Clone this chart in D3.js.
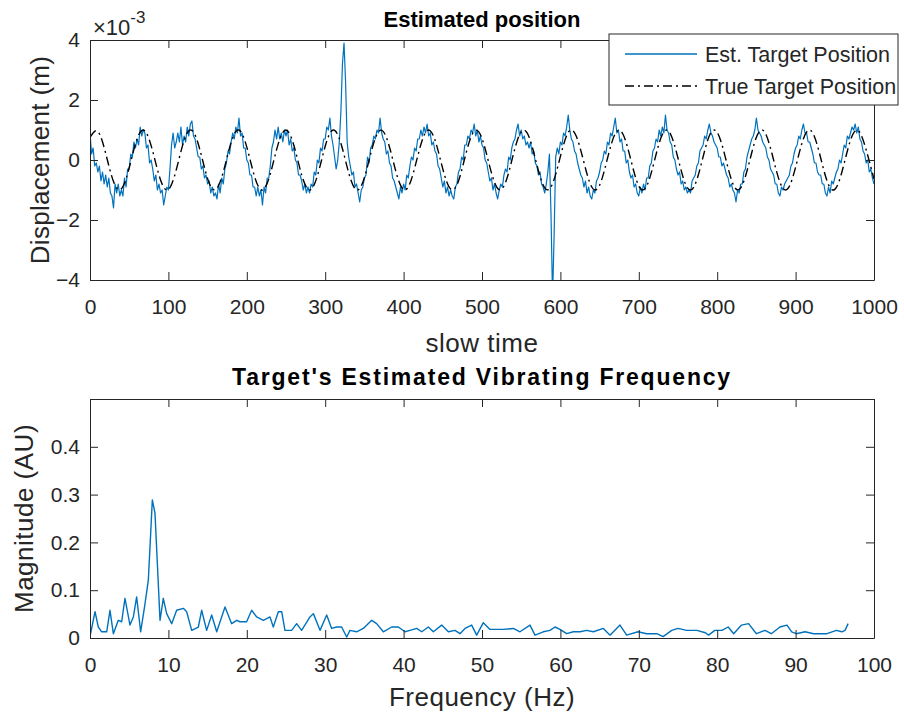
<!DOCTYPE html>
<html>
<head>
<meta charset="utf-8">
<script src="https://cdn.jsdelivr.net/npm/d3@7"></script>
<style>
  body { margin: 0; background: #ffffff; }
  text { font-family: "Liberation Sans", Arial, Helvetica, sans-serif; }
</style>
</head>
<body>
<div id="chart"></div>
<script>
// ---- data ----
// estimated target position, units of 1e-3 m, one value every 2 slow-time samples
var estStep = 2;
var estPosition = [
  0.9, 0.2, 0.4, -0.2, -0.1,   -0.4, -0.2, -0.7, -0.4, -0.8,
  -0.5, -0.9, -0.6, -1.1, -1.2,   -1.6, -0.8, -1.1, -0.8, -1.2,
  -1.0, -1.2, -0.6, -0.9, -0.3,   -0.3, 0.2, 0.1, 0.6, 0.4,
  0.7, 0.5, 1.1, 0.8, 1.0,   0.9, 0.4, 0.5, -0.1, 0.0,
  -0.3, -0.7, -0.5, -1.0, -0.8,   -1.1, -1.0, -1.5, -1.2, -0.9,
  -1.0, -0.3, 0.5, 0.9, 0.4,   0.6, 0.9, 0.6, 1.1, 0.5,
  0.8, 0.6, 1.1, 0.8, 1.2,   1.3, 0.8, 0.7, 0.4, 0.1,
  0.1, -0.3, -0.2, -0.6, -0.5,   -0.8, -0.7, -1.1, -0.9, -1.2,
  -1.1, -1.3, -0.8, -1.1, -0.6,   -0.8, -0.3, -0.1, 0.3, 0.2,
  0.6, 0.9, 0.7, 1.1, 0.9,   1.4, 0.8, 0.9, 0.4, 0.4,
  0.0, -0.1, -0.5, -0.5, -0.9,   -0.9, -1.2, -0.9, -1.2, -1.0,
  -1.5, -0.9, -1.1, -0.6, -0.6,   -0.2, 0.4, 0.6, 1.0, 0.7,
  1.1, 0.7, 0.9, 0.6, 1.0,   0.8, 1.0, 0.5, 0.7, 0.3,
  0.4, 0.0, -0.1, -0.5, -0.5,   -0.7, -1.0, -0.8, -1.1, -0.9,
  -1.1, -0.8, -0.9, -0.4, -0.5,   0.0, -0.1, 0.4, 0.3, 0.7,
  0.7, 1.1, 1.0, 1.4, 0.8,   0.5, 0.1, -0.3, 0.0, 0.6,
  1.6, 3.2, 3.9, 2.6, 0.6,   0.1, -0.2, -0.5, -0.4, -0.9,
  -0.8, -1.1, -1.4, -1.0, -0.9,   -0.6, -0.5, 0.1, -0.1, 0.4,
  0.5, 0.8, 0.7, 1.0, 0.9,   1.4, 0.9, 0.7, 0.6, 0.2,
  0.3, -0.1, -0.2, -0.6, -0.7,   -0.9, -1.1, -1.3, -0.9, -1.1,
  -0.8, -1.0, -0.5, -0.6, -0.2,   0.1, 0.0, 0.4, 0.3, 0.7,
  0.7, 1.0, 0.8, 1.1, 0.9,   1.2, 0.8, 0.9, 0.5, 0.6,
  0.3, 0.2, -0.2, -0.3, -0.6,   -0.9, -0.7, -1.1, -0.9, -1.2,
  -1.0, -1.2, -1.3, -0.9, -0.8,   -0.4, -0.3, 0.1, 0.0, 0.5,
  0.5, 0.8, 0.7, 1.0, 0.9,   1.2, 0.8, 1.0, 0.6, 0.8,
  0.5, 0.4, 0.0, -0.1, -0.4,   -0.7, -0.6, -1.0, -0.8, -1.1,
  -1.3, -1.0, -0.8, -0.9, -0.5,   -0.3, -0.4, 0.1, 0.0, 0.4,
  0.6, 0.7, 1.0, 1.2, 0.8,   1.0, 0.7, 0.8, 0.5, 0.6,
  0.4, 0.6, 0.2, 0.3, -0.1,   -0.2, -0.5, -0.4, -0.8, -0.9,
  -1.1, -0.8, -0.4, 0.2, -1.8,   -4.6, -2.5, 0.1, 0.4, 0.2,
  0.6, 0.5, 0.9, 0.8, 1.1,   1.5, 1.0, 0.7, 0.6, 0.3,
  0.2, -0.1, -0.3, -0.5, -0.6,   -0.9, -0.7, -1.1, -0.9, -1.2,
  -1.3, -1.0, -1.1, -0.7, -0.6,   -0.4, -0.1, 0.0, 0.3, 0.2,
  0.6, 0.5, 0.9, 0.8, 1.1,   1.4, 0.9, 1.0, 0.6, 0.7,
  0.3, 0.3, -0.1, 0.0, -0.4,   -0.6, -0.5, -0.9, -0.8, -1.1,
  -1.2, -0.9, -1.1, -0.8, -1.0,   -0.6, -0.6, -0.2, -0.1, 0.3,
  0.4, 0.7, 0.6, 1.0, 0.8,   1.1, 0.9, 1.5, 1.0, 0.9,
  0.6, 0.5, 0.1, 0.0, -0.3,   -0.5, -0.4, -0.8, -0.7, -1.0,
  -0.9, -1.1, -1.0, -1.1, -0.7,   -0.6, -0.5, -0.2, -0.1, 0.3,
  0.4, 0.5, 0.8, 0.7, 1.0,   1.2, 0.9, 0.8, 0.6, 0.5,
  0.4, 0.1, 0.1, -0.2, -0.1,   -0.3, -0.5, -0.6, -0.9, -0.8,
  -1.0, -1.1, -1.4, -1.0, -1.1,   -0.8, -0.8, -0.4, -0.3, 0.1,
  0.3, 0.5, 0.7, 0.8, 1.0,   1.4, 1.0, 0.9, 0.8, 0.6,
  0.5, 0.4, 0.1, 0.0, -0.3,   -0.4, -0.5, -0.8, -0.8, -1.1,
  -1.2, -0.9, -1.0, -0.8, -0.7,   -0.6, -0.5, -0.2, -0.1, 0.2,
  0.4, 0.5, 0.8, 0.7, 1.0,   1.2, 0.9, 0.9, 0.6, 0.6,
  0.4, 0.2, -0.1, -0.1, -0.4,   -0.5, -0.5, -0.8, -0.8, -1.1,
  -1.2, -0.9, -1.1, -0.7, -0.8,   -0.6, -0.4, -0.3, 0.0, -0.1,
  0.2, 0.5, 0.4, 0.8, 0.7,   0.9, 1.1, 1.0, 1.2, 0.9,
  1.1, 0.7, 0.6, 0.3, 0.2,   -0.1, 0.0, -0.4, -0.3, -0.6,
  -0.8
];

// true target position, units of 1e-3 m, one value every 10 samples
var trueStep = 10;
var truePosition = [
  0.75, 0.95, 0.22, -0.72, -0.96, -0.26, 0.70, 0.97, 0.29, -0.67,
  -0.98, -0.33, 0.65, 0.99, 0.36, -0.62, -0.99, -0.40, 0.59, 1.00,
  0.43, -0.56, -1.00, -0.46, 0.53, 1.00, 0.49, -0.50, -1.00, -0.53,
  0.46, 1.00, 0.56, -0.43, -1.00, -0.59, 0.40, 0.99, 0.61, -0.37,
  -0.99, -0.64, 0.33, 0.98, 0.67, -0.30, -0.97, -0.70, 0.26, 0.96,
  0.72, -0.23, -0.95, -0.75, 0.19, 0.94, 0.77, -0.16, -0.93, -0.79,
  0.12, 0.92, 0.81, -0.08, -0.90, -0.84, 0.05, 0.88, 0.85, -0.01,
  -0.87, -0.87, -0.02, 0.85, 0.89, 0.06, -0.83, -0.91, -0.10, 0.81,
  0.92, 0.13, -0.79, -0.93, -0.17, 0.76, 0.95, 0.20, -0.74, -0.96,
  -0.24, 0.71, 0.97, 0.27, -0.69, -0.98, -0.31, 0.66, 0.98, 0.34,
  -0.63
];

var freqHz = [
  0, 0.64, 1.06, 1.49, 2.13, 2.55, 2.98, 3.61, 4.04, 4.46,
  5.10, 5.53, 5.95, 6.46, 7.02, 7.44, 7.95, 8.29, 8.93, 9.35,
  9.78, 10.42, 11.05, 11.90, 12.33, 12.97, 13.82, 14.24, 14.88, 15.52,
  16.16, 17.22, 18.07, 18.71, 19.13, 19.98, 20.62, 21.26, 22.11, 22.96,
  23.38, 24.02, 24.45, 24.87, 25.72, 26.36, 26.99, 28.06, 28.49, 29.34,
  30.19, 30.82, 31.46, 32.10, 32.74, 33.16, 34.01, 34.86, 35.93, 36.56,
  37.41, 38.48, 39.33, 40.18, 40.82, 41.67, 42.31, 43.16, 43.79, 44.86,
  45.71, 46.56, 47.19, 47.83, 48.68, 49.32, 50.17, 51.02, 52.72, 54.00,
  54.85, 56.12, 56.76, 57.82, 58.67, 59.31, 59.95, 60.80, 61.65, 62.50,
  63.35, 64.20, 65.48, 66.33, 67.60, 68.45, 69.9, 71.0, 72.3, 73.1,
  74.2, 75.0, 76.1, 77.4, 78.5, 78.9, 79.7, 80.6, 81.4, 82.1,
  83.1, 84.0, 85.0, 86.1, 86.9, 88.0, 88.9, 89.5, 90.1, 91.2,
  92.3, 93.1, 94.0, 95.2, 95.9, 96.3, 96.7
];
var magnitude = [
  0.003, 0.055, 0.023, 0.013, 0.013, 0.058, 0.009, 0.037, 0.034, 0.083,
  0.027, 0.044, 0.086, 0.013, 0.072, 0.121, 0.289, 0.261, 0.037, 0.083,
  0.051, 0.030, 0.058, 0.062, 0.055, 0.016, 0.023, 0.058, 0.016, 0.048,
  0.013, 0.065, 0.030, 0.037, 0.034, 0.034, 0.058, 0.044, 0.037, 0.044,
  0.023, 0.055, 0.055, 0.016, 0.016, 0.030, 0.016, 0.044, 0.051, 0.016,
  0.048, 0.020, 0.023, 0.023, 0.002, 0.016, 0.013, 0.020, 0.037, 0.030,
  0.013, 0.023, 0.023, 0.013, 0.016, 0.020, 0.013, 0.023, 0.013, 0.027,
  0.013, 0.016, 0.009, 0.020, 0.027, 0.006, 0.032, 0.018, 0.018, 0.020,
  0.013, 0.027, 0.006, 0.013, 0.016, 0.023, 0.018, 0.009, 0.013, 0.013,
  0.016, 0.013, 0.020, 0.006, 0.027, 0.006, 0.013, 0.009, 0.009, 0.003,
  0.016, 0.020, 0.016, 0.016, 0.011, 0.006, 0.016, 0.016, 0.023, 0.009,
  0.027, 0.030, 0.009, 0.016, 0.009, 0.023, 0.027, 0.013, 0.009, 0.013,
  0.009, 0.009, 0.009, 0.016, 0.013, 0.016, 0.030
];

var timeTicks = [0, 100, 200, 300, 400, 500, 600, 700, 800, 900, 1000];
var posTicks = [-4, -2, 0, 2, 4];
var freqTicks = [0, 10, 20, 30, 40, 50, 60, 70, 80, 90, 100];
var magTicks = [0, 0.1, 0.2, 0.3, 0.4];

var legendNames = ['Est. Target Position', 'True Target Position'];

// ---- layout ----
var axisColor = '#262626';
var blue = '#0072BD';
var tickFont = '21px';
var labelFont = '26px';

var svg = d3.select('#chart').append('svg')
  .attr('width', 904)
  .attr('height', 717)
  .style('background', '#ffffff');

var left = 90, right = 874;
var top1 = 40, bottom1 = 280;
var top2 = 399, bottom2 = 638;

var xTime = d3.scaleLinear().domain([0, 1000]).range([left, right]);
var yPos = d3.scaleLinear().domain([-4, 4]).range([bottom1, top1]);
var xFreq = d3.scaleLinear().domain([0, 100]).range([left, right]);
var yMag = d3.scaleLinear().domain([0, 0.5]).range([bottom2, top2]);

function styleAxis(g) {
  g.attr('font-size', null).attr('font-family', null);
  g.selectAll('path').style('stroke', axisColor).style('stroke-width', 1);
  g.selectAll('line').style('stroke', axisColor).style('stroke-width', 1);
  g.selectAll('text').style('fill', axisColor).style('font-size', tickFont);
}

function drawBox(xs, ys, xt, yt, yTop, yBot, xFmt, yFmt) {
  var gb = svg.append('g').attr('transform', 'translate(0,' + yBot + ')')
    .call(d3.axisBottom(xs).tickValues(xt).tickFormat(xFmt).tickSizeInner(-8).tickSizeOuter(0).tickPadding(19));
  styleAxis(gb);
  var gt = svg.append('g').attr('transform', 'translate(0,' + yTop + ')')
    .call(d3.axisTop(xs).tickValues(xt).tickFormat('').tickSizeInner(-8).tickSizeOuter(0));
  styleAxis(gt);
  var gl = svg.append('g').attr('transform', 'translate(' + left + ',0)')
    .call(d3.axisLeft(ys).tickValues(yt).tickFormat(yFmt).tickSizeInner(-8).tickSizeOuter(0).tickPadding(10));
  styleAxis(gl);
  var gr = svg.append('g').attr('transform', 'translate(' + right + ',0)')
    .call(d3.axisRight(ys).tickValues(yt).tickFormat('').tickSizeInner(-8).tickSizeOuter(0));
  styleAxis(gr);
}

// clip regions
var defs = svg.append('defs');
defs.append('clipPath').attr('id', 'clip1').append('rect')
  .attr('x', left).attr('y', top1).attr('width', right - left).attr('height', bottom1 - top1);
defs.append('clipPath').attr('id', 'clip2').append('rect')
  .attr('x', left).attr('y', top2).attr('width', right - left).attr('height', bottom2 - top2);

// ---- top plot ----
var estPoints = estPosition.map(function(v, i) { return [i * estStep, v]; });
var truePoints = truePosition.map(function(v, i) { return [i * trueStep, v]; });

var estLine = d3.line()
  .x(function(d) { return xTime(d[0]); })
  .y(function(d) { return yPos(d[1]); });
var trueLine = d3.line()
  .x(function(d) { return xTime(d[0]); })
  .y(function(d) { return yPos(d[1]); })
  .curve(d3.curveNatural);

var plot1 = svg.append('g').attr('clip-path', 'url(#clip1)');
plot1.append('path').datum(estPoints)
  .attr('d', estLine)
  .style('fill', 'none')
  .style('stroke', blue)
  .style('stroke-width', 1.2)
  .style('stroke-linejoin', 'round');
plot1.append('path').datum(truePoints)
  .attr('d', trueLine)
  .style('fill', 'none')
  .style('stroke', '#000000')
  .style('stroke-width', 1.4)
  .style('stroke-dasharray', '9,4,2,4');

drawBox(xTime, yPos, timeTicks, posTicks, top1, bottom1, d3.format('d'), d3.format('d'));

// exponent label
var expo = svg.append('text')
  .attr('x', 93).attr('y', 35)
  .style('fill', axisColor).style('font-size', '22px');
expo.append('tspan').text('\u00d710');
expo.append('tspan').attr('dy', -12).style('font-size', '17px').text('-3');

svg.append('text')
  .attr('x', (left + right) / 2).attr('y', 27)
  .attr('text-anchor', 'middle')
  .style('font-weight', 'bold').style('font-size', '22px').style('fill', '#000')
  .text('Estimated position');

svg.append('text')
  .attr('x', (left + right) / 2).attr('y', 352)
  .attr('text-anchor', 'middle')
  .style('font-size', labelFont).style('letter-spacing', '0.5px').style('fill', axisColor)
  .text('slow time');

svg.append('text')
  .attr('transform', 'translate(49,' + ((top1 + bottom1) / 2) + ') rotate(-90)')
  .attr('text-anchor', 'middle')
  .style('font-size', labelFont).style('letter-spacing', '0.3px').style('fill', axisColor)
  .text('Displacement (m)');

// legend
var legend = svg.append('g');
legend.append('rect')
  .attr('x', 609).attr('y', 34).attr('width', 289).attr('height', 71)
  .style('fill', '#ffffff').style('stroke', axisColor).style('stroke-width', 1);
legendNames.forEach(function(name, i) {
  var ly = 54 + i * 32;
  legend.append('line')
    .attr('x1', 625).attr('x2', 697).attr('y1', ly).attr('y2', ly)
    .style('stroke', i === 0 ? blue : '#000000')
    .style('stroke-width', 1.4)
    .style('stroke-dasharray', i === 0 ? null : '9,4,2,4');
  legend.append('text')
    .attr('x', 705).attr('y', ly).attr('dy', '0.35em')
    .style('font-size', '21.5px').style('fill', axisColor)
    .text(name);
});

// ---- bottom plot ----
var magPoints = freqHz.map(function(f, i) { return [f, magnitude[i]]; });
var magLine = d3.line()
  .x(function(d) { return xFreq(d[0]); })
  .y(function(d) { return yMag(d[1]); });

svg.append('g').attr('clip-path', 'url(#clip2)')
  .append('path').datum(magPoints)
  .attr('d', magLine)
  .style('fill', 'none')
  .style('stroke', blue)
  .style('stroke-width', 1.4)
  .style('stroke-linejoin', 'round');

drawBox(xFreq, yMag, freqTicks, magTicks, top2, bottom2, d3.format('d'), function(d) { return d === 0 ? '0' : d3.format('.1f')(d); });

svg.append('text')
  .attr('x', (left + right) / 2).attr('y', 385)
  .attr('text-anchor', 'middle')
  .style('font-weight', 'bold').style('font-size', '23px').style('fill', '#000')
  .style('letter-spacing', '1.8px')
  .text("Target's Estimated Vibrating Frequency");

svg.append('text')
  .attr('x', (left + right) / 2).attr('y', 706)
  .attr('text-anchor', 'middle')
  .style('font-size', labelFont).style('letter-spacing', '0.5px').style('fill', axisColor)
  .text('Frequency (Hz)');

svg.append('text')
  .attr('transform', 'translate(33,' + ((top2 + bottom2) / 2) + ') rotate(-90)')
  .attr('text-anchor', 'middle')
  .style('font-size', labelFont).style('letter-spacing', '0.5px').style('fill', axisColor)
  .text('Magnitude (AU)');
</script>
</body>
</html>
